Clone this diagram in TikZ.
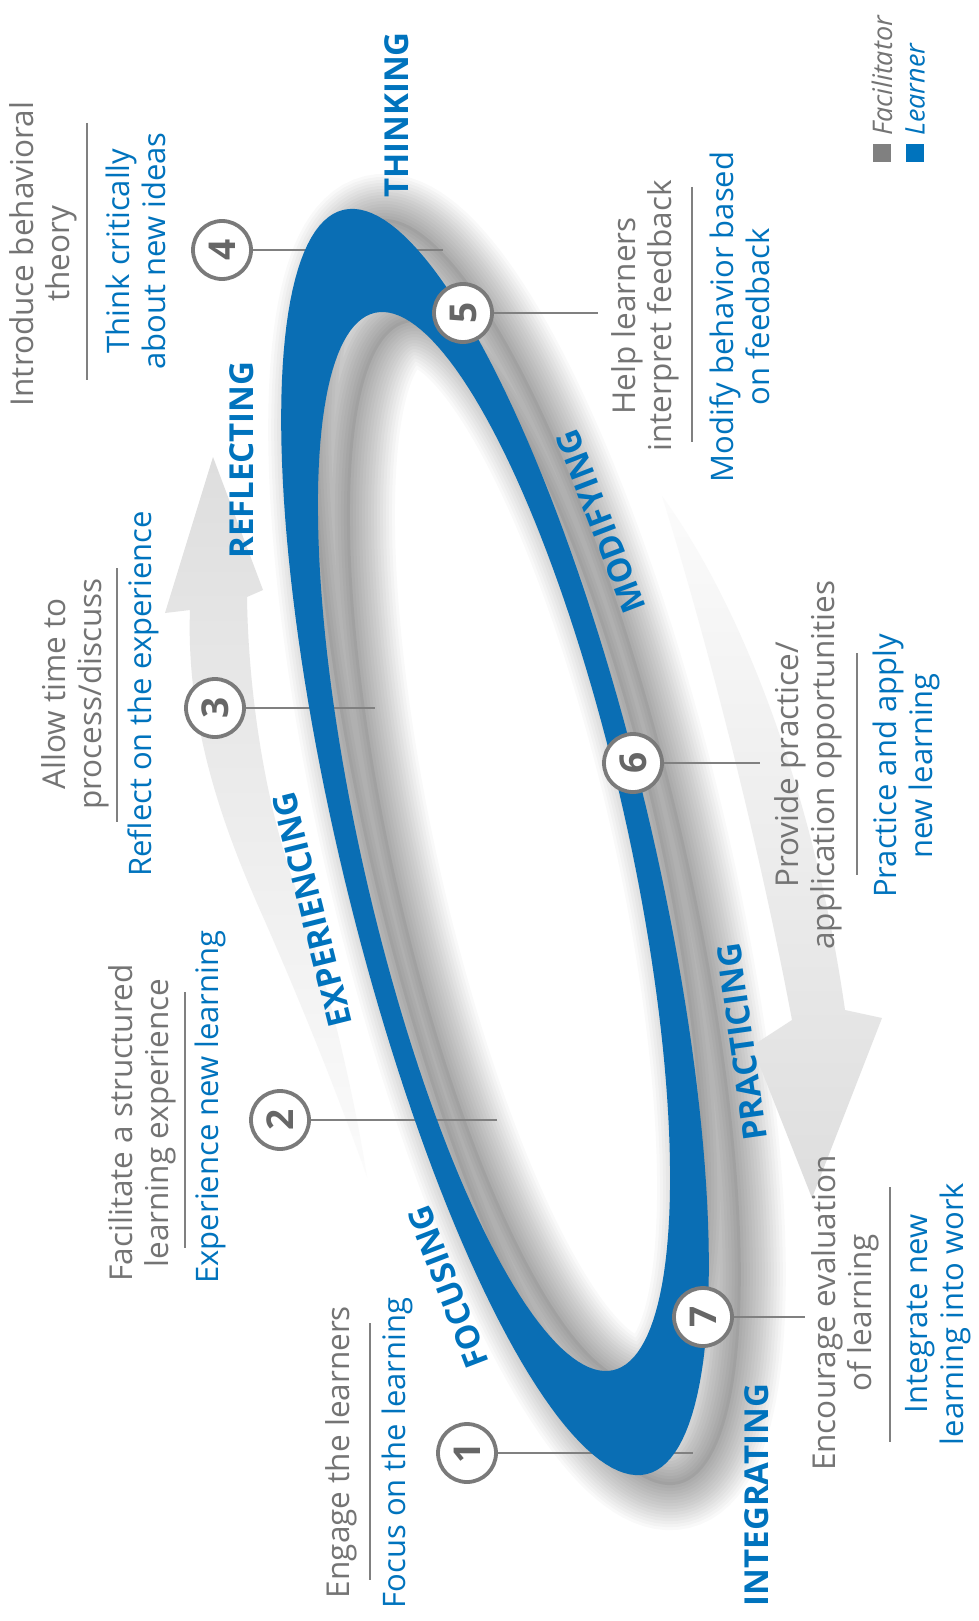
\documentclass[tikz,border=0pt]{standalone}
\usepackage{fontspec}
\setmainfont{Open Sans}
\usepackage{graphicx}
\pgfdeclarelayer{back}
\pgfdeclarelayer{mid}
\pgfsetlayers{back,mid,main}
\definecolor{ringblue}{HTML}{0A6EB4}
\definecolor{lblue}{HTML}{0073BD}
\definecolor{tgray}{HTML}{747474}
\definecolor{lgray}{HTML}{808080}
\definecolor{cgray}{HTML}{7A7A7A}
\definecolor{ngray}{HTML}{666666}
\newcommand\ringband[1]{\path[#1]
  plot[domain=0:360, samples=181, variable=\t] ({495+151.7*cos(\t)+150.7*sin(\t)}, {842+632.1*cos(\t)-36.2*sin(\t)}) -- cycle
  plot[domain=0:360, samples=181, variable=\t] ({494+119.1*cos(\t)+129.7*sin(\t)}, {841.5+528.7*cos(\t)-29.2*sin(\t)}) -- cycle;}
\begin{document}
\begin{tikzpicture}[x=1pt,y=-1pt,
  fac/.style={text=tgray, font=\fontsize{31.5}{36}\selectfont, align=center, rotate=90, inner sep=0pt},
  lrn/.style={text=lblue, font=\fontsize{31}{36}\selectfont, align=center, rotate=90, inner sep=0pt},
  stage/.style={text=lblue, font=\fontsize{33}{38}\selectfont\bfseries, inner sep=0pt},
  num/.style={circle, draw=cgray, line width=3.8pt, fill=white, minimum size=58pt, inner sep=0pt, text=ngray, font=\fontsize{37}{37}\selectfont\bfseries},
  conn/.style={draw=lgray, line width=1.6pt},
  sepline/.style={draw=lgray, line width=1.6pt},
  legtext/.style={font=\fontsize{27}{30}\selectfont\itshape, rotate=90, inner sep=0pt, anchor=west}]
\useasboundingbox (0,0) rectangle (978,1621);
\begin{pgfonlayer}{back}
\fill[white] (0,0) rectangle (978,1621);
% soft shadow of the ring
\begin{scope}[transform canvas={shift={(32pt,-10pt)}}]
\foreach \w in {90,84,78,72,66,60,54,48,42,36,30,24,18,12,6} {\ringband{draw=black, line width=\w pt, opacity=0.022}}
\ringband{fill=black, even odd rule, opacity=0.06}
\end{scope}
% gray arrows
\shade[top color=gray!26, bottom color=gray!3]
  (213,457) -- (263,590) -- (247,597)
  .. controls (248,680) and (262,800) .. (300,900)
  .. controls (330,990) and (355,1100) .. (367,1177)
  .. controls (340,1100) and (300,1000) .. (260,910)
  .. controls (220,820) and (186,720) .. (190,610)
  -- (165,613) -- cycle;
\shade[top color=gray!3, bottom color=gray!26]
  (662,496) .. controls (745,610) and (815,800) .. (845,1010)
  -- (882,1018) -- (812,1198) -- (752,1046) -- (792,1020)
  .. controls (760,850) and (710,650) .. (662,496) -- cycle;
\end{pgfonlayer}
% blue band
\ringband{fill=ringblue, even odd rule}
% circles
\node[num] (c1) at (467,1453) {\rotatebox{90}{1}};
\node[num] (c2) at (280,1120) {\rotatebox{90}{2}};
\node[num] (c3) at (215,708) {\rotatebox{90}{3}};
\node[num] (c4) at (222,250) {\rotatebox{90}{4}};
\node[num] (c5) at (463,313) {\rotatebox{90}{5}};
\node[num] (c6) at (633,763) {\rotatebox{90}{6}};
\node[num] (c7) at (703,1317) {\rotatebox{90}{7}};
\coordinate (e1) at (693,1453);
\coordinate (e2) at (497,1120);
\coordinate (e3) at (375,708);
\coordinate (e4) at (443,250);
\coordinate (e5) at (598,313);
\coordinate (e6) at (760,763);
\coordinate (e7) at (805,1317);
\begin{pgfonlayer}{mid}
\foreach \i in {1,...,7} {\draw[conn] (c\i) -- (e\i);}
\end{pgfonlayer}
% stage labels
\node[stage, rotate=90] (thinking) at (397,115) {THINKING};
\node[stage, rotate=90] (reflecting) at (242,460) {REFLECTING};
\node[stage, rotate=104] (experiencing) at (312,910) {EXPERIENCING};
\node[stage, rotate=111] (focusing) at (448,1287) {FOCUSING};
\node[stage, rotate=90] (integrating) at (757,1495) {INTEGRATING};
\node[stage, rotate=98] (practicing) at (742,1042) {PRACTICING};
\node[stage, rotate=111] (modifying) at (601,522) {MODIFYING};
% text blocks
\node[fac] (f1) at (341,1452) {Engage the learners};
\node[lrn] (l1) at (397,1453) {Focus on the learning};
\coordinate (s1a) at (370,1323); \coordinate (s1b) at (370,1580);
\node[fac] (f2) at (142,1123) {Facilitate a structured\\learning experience};
\node[lrn] (l2) at (210,1107) {Experience new learning};
\coordinate (s2a) at (185,992); \coordinate (s2b) at (185,1248);
\node[fac] (f3) at (75,694) {Allow time to\\process/discuss};
\node[lrn] (l3) at (143,694) {Reflect on the experience};
\coordinate (s3a) at (117,568); \coordinate (s3b) at (117,822);
\node[fac] (f4) at (43,254) {Introduce behavioral\\theory};
\node[lrn] (l4) at (136,251) {Think critically\\about new ideas};
\coordinate (s4a) at (87,123); \coordinate (s4b) at (87,380);
\node[fac] (f5) at (645,316) {Help learners\\interpret feedback};
\node[lrn] (l5) at (740,317) {Modify behavior based\\on feedback};
\coordinate (s5a) at (692,187); \coordinate (s5b) at (692,442);
\node[fac] (f6) at (808,765) {Provide practice/\\application opportunities};
\node[lrn] (l6) at (906,766) {Practice and apply\\new learning};
\coordinate (s6a) at (857,653); \coordinate (s6b) at (857,875);
\node[fac] (f7) at (845,1313) {Encourage evaluation\\of learning};
\node[lrn] (l7) at (938,1314) {Integrate new\\learning into work};
\coordinate (s7a) at (890,1187); \coordinate (s7b) at (890,1442);
\foreach \i in {1,...,7} {\draw[sepline] (s\i a) -- (s\i b);}
% legend
\node[fill=lgray, minimum size=18pt, inner sep=0pt] (sqf) at (882,153) {};
\node[fill=lblue, minimum size=18pt, inner sep=0pt] (sql) at (915,153) {};
\node[legtext, text=tgray] (legf) at (882,136) {Facilitator};
\node[legtext, text=lblue] (legl) at (915,136) {Learner};
\end{tikzpicture}
\end{document}
